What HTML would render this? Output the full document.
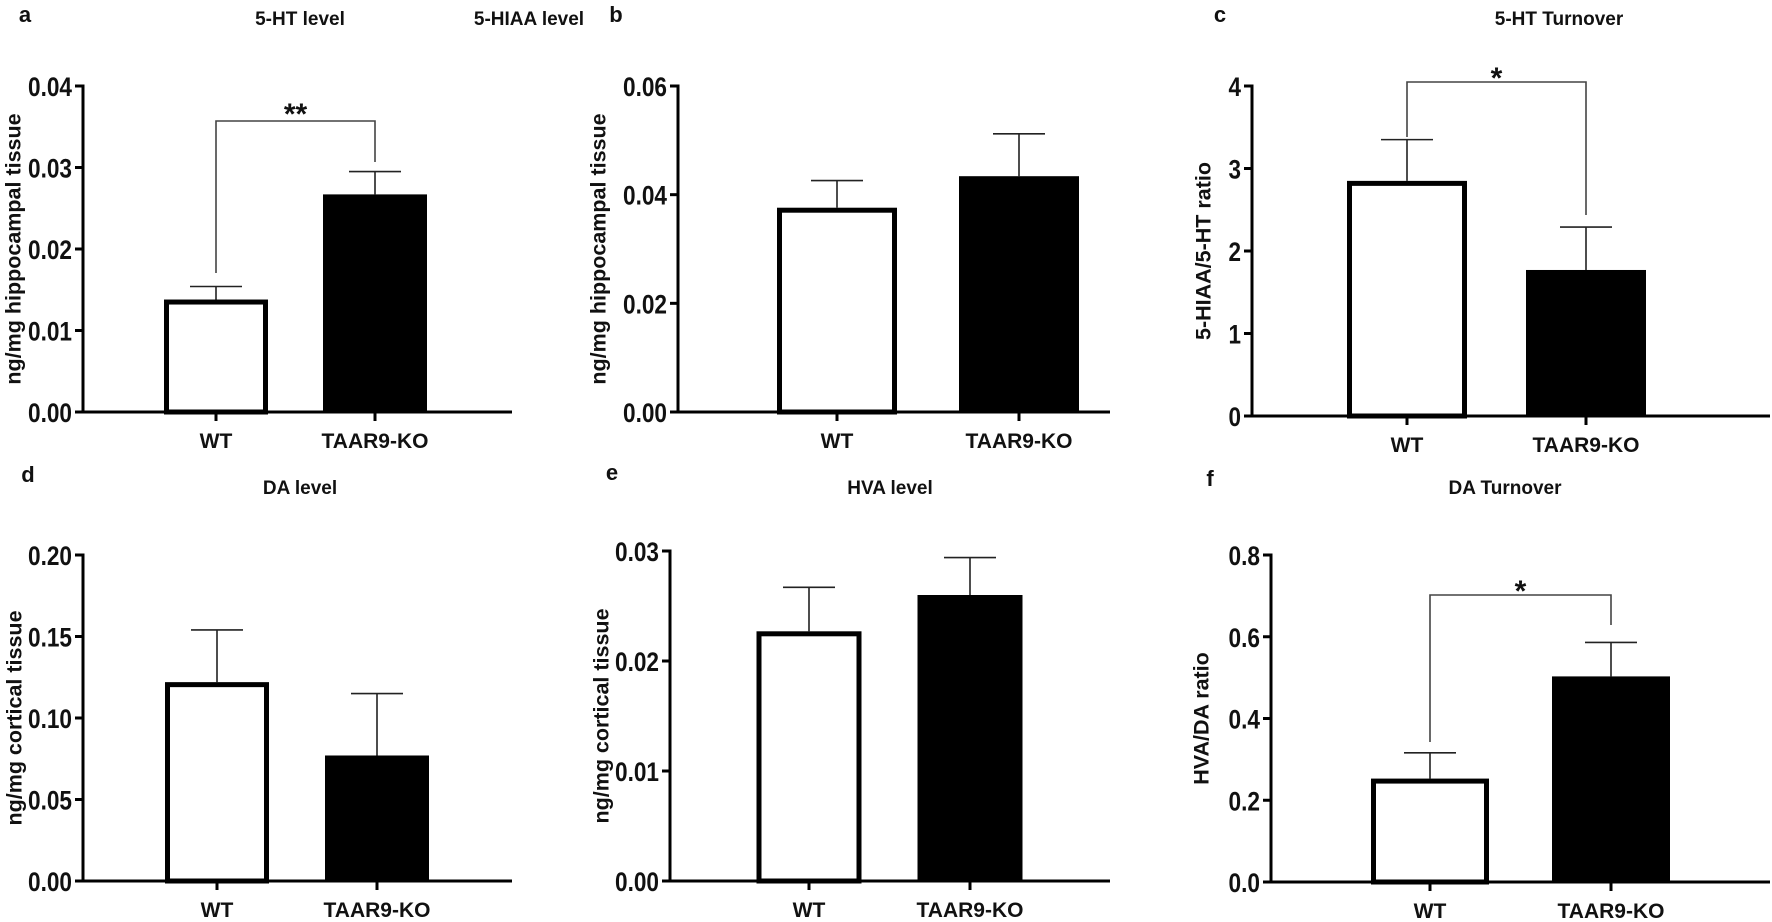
<!DOCTYPE html>
<html><head><meta charset="utf-8"><style>
html,body{margin:0;padding:0;background:#fff}
svg{display:block}
text{font-family:"Liberation Sans",Arial,sans-serif;font-weight:bold;fill:#111}
</style></head><body>
<svg id="fig" width="1772" height="922" viewBox="0 0 1772 922" xmlns="http://www.w3.org/2000/svg"></svg>
<script>
// ---- data ----
const categories = ["WT", "TAAR9-KO"];
const aValues = [0.0138, 0.0267];
const aErrors = [0.0016, 0.0028];
const aTicks = [0, 0.01, 0.02, 0.03, 0.04];
const aTickLabels = ["0.00", "0.01", "0.02", "0.03", "0.04"];
const bValues = [0.0376, 0.0434];
const bErrors = [0.0050, 0.0078];
const bTicks = [0, 0.02, 0.04, 0.06];
const bTickLabels = ["0.00", "0.02", "0.04", "0.06"];
const cValues = [2.85, 1.77];
const cErrors = [0.50, 0.52];
const cTicks = [0, 1, 2, 3, 4];
const cTickLabels = ["0", "1", "2", "3", "4"];
const dValues = [0.122, 0.077];
const dErrors = [0.032, 0.038];
const dTicks = [0, 0.05, 0.10, 0.15, 0.20];
const dTickLabels = ["0.00", "0.05", "0.10", "0.15", "0.20"];
const eValues = [0.0227, 0.0260];
const eErrors = [0.0040, 0.0034];
const eTicks = [0, 0.01, 0.02, 0.03];
const eTickLabels = ["0.00", "0.01", "0.02", "0.03"];
const fValues = [0.253, 0.503];
const fErrors = [0.063, 0.083];
const fTicks = [0, 0.2, 0.4, 0.6, 0.8];
const fTickLabels = ["0.0", "0.2", "0.4", "0.6", "0.8"];

const NS = "http://www.w3.org/2000/svg";
const svg = document.getElementById('fig');
function mk(tag, attrs, parent, txt) {
  const e = document.createElementNS(NS, tag);
  for (const k in attrs) e.setAttribute(k, attrs[k]);
  if (txt !== undefined) e.textContent = txt;
  (parent || svg).appendChild(e);
  return e;
}

const panels = [
  {id:'a', letter:[25,22], title:'5-HT level', tx:300, ty:25, ylabel:'ng/mg hippocampal  tissue', ylx:15, x0:83, yTop:86, yBot:412, xEnd:512, c0:216, gap:159, bw:104, max:0.04,
   values:aValues, errors:aErrors, ticks:aTicks, tl:aTickLabels, sig:{y:121, l:273, r:162, s:'**', sy:112}},
  {id:'b', letter:[616,22], title:'5-HIAA level', tx:529, ty:25, ylabel:'ng/mg hippocampal  tissue', ylx:600, x0:678, yTop:86, yBot:412, xEnd:1110, c0:837, gap:182, bw:120, max:0.06,
   values:bValues, errors:bErrors, ticks:bTicks, tl:bTickLabels},
  {id:'c', letter:[1220,22], title:'5-HT Turnover', tx:1559, ty:25, ylabel:'5-HIAA/5-HT ratio', ylx:1205, x0:1252, yTop:86, yBot:416, xEnd:1770, c0:1407, gap:179, bw:120, max:4,
   values:cValues, errors:cErrors, ticks:cTicks, tl:cTickLabels, sig:{y:82, l:137, r:215, s:'*', sy:76}},
  {id:'d', letter:[28,482], title:'DA level', tx:300, ty:494, ylabel:'ng/mg cortical tissue', ylx:16, x0:83, yTop:555, yBot:881, xEnd:512, c0:217, gap:160, bw:104, max:0.20,
   values:dValues, errors:dErrors, ticks:dTicks, tl:dTickLabels},
  {id:'e', letter:[612,480], title:'HVA level', tx:890, ty:494, ylabel:'ng/mg cortical tissue', ylx:603, x0:670, yTop:551, yBot:881, xEnd:1110, c0:809, gap:161, bw:105, max:0.03,
   values:eValues, errors:eErrors, ticks:eTicks, tl:eTickLabels},
  {id:'f', letter:[1210,486], title:'DA Turnover', tx:1505, ty:494, ylabel:'HVA/DA ratio', ylx:1203, x0:1271, yTop:555, yBot:882, xEnd:1770, c0:1430, gap:181, bw:118, max:0.8,
   values:fValues, errors:fErrors, ticks:fTicks, tl:fTickLabels, sig:{y:595, l:742, r:625, s:'*', sy:589}}
];

function labelWidth(s) {
  let w = 0;
  for (const ch of s) w += (ch === '.') ? 6.5 : 12.5;
  return w;
}

panels.forEach(p => {
  const g = mk('g', {});
  
  
  const y = v => p.yBot - (v / p.max) * (p.yBot - p.yTop);
  const x = i => p.c0 + i * p.gap;

  const L = mk('text', {x:p.letter[0], y:p.letter[1], 'font-size':22, 'text-anchor':'middle'}, g, p.id);
  
  
  const T = mk('text', {x:p.tx, y:p.ty, 'font-size':19, 'text-anchor':'middle'}, g, p.title);
  
  
  const cy = (p.yTop + p.yBot) / 2;
  const YL = mk('text', {x:p.ylx, y:cy, 'font-size':21.5, 'text-anchor':'middle', transform:`rotate(-90 ${p.ylx} ${cy})`, 'dominant-baseline':'middle'}, g, p.ylabel);
  
  

  p.values.forEach((v, i) => {
    const cx = x(i), top = y(v);
    const ey = y(v + p.errors[i]);
    const el = mk('line', {x1:cx, x2:cx, y1:top, y2:ey, stroke:'#222', 'stroke-width':1.6}, g);
    
    
    const cap = mk('line', {x1:cx - 26, x2:cx + 26, y1:ey, y2:ey, stroke:'#222', 'stroke-width':1.6}, g);
    
    
    let r;
    if (i === 0) {
      r = mk('rect', {x:cx - p.bw/2 + 2.5, y:top + 2.5, width:p.bw - 5, height:p.yBot - top - 2.5, fill:'#fff', stroke:'#000', 'stroke-width':5}, g);
    } else {
      r = mk('rect', {x:cx - p.bw/2, y:top, width:p.bw, height:p.yBot - top, fill:'#000'}, g);
    }
    
    
  });

  const ya = mk('line', {x1:p.x0, x2:p.x0, y1:p.yTop - 1.5, y2:p.yBot + 1.5, stroke:'#000', 'stroke-width':3}, g);
  
  
  const xa = mk('line', {x1:p.x0, x2:p.xEnd, y1:p.yBot, y2:p.yBot, stroke:'#000', 'stroke-width':3}, g);
  
  
  p.ticks.forEach((t, k) => {
    const ty = y(t);
    const tk = mk('line', {x1:p.x0 - 8, x2:p.x0, y1:ty, y2:ty, stroke:'#000', 'stroke-width':3}, g);
    
    
    const tl = mk('text', {x:p.x0 - 11, y:ty + 10, 'font-size':27, 'text-anchor':'end', textLength:labelWidth(p.tl[k]), lengthAdjust:'spacingAndGlyphs'}, g, p.tl[k]);
    
    
  });
  categories.forEach((c, i) => {
    const cx = x(i);
    const tk = mk('line', {x1:cx, x2:cx, y1:p.yBot, y2:p.yBot + 9, stroke:'#000', 'stroke-width':3}, g);
    
    
    const xl = mk('text', {x:cx, y:p.yBot + 36, 'font-size':21, 'text-anchor':'middle'}, g, c);
    
    
  });

  if (p.sig) {
    const s = p.sig;
    const br = mk('polyline', {points:`${x(0)},${s.l} ${x(0)},${s.y} ${x(1)},${s.y} ${x(1)},${s.r}`, fill:'none', stroke:'#444', 'stroke-width':1.6}, g);
    
    
    const st = mk('text', {x:(x(0) + x(1)) / 2, y:s.sy + 12, 'font-size':30, 'text-anchor':'middle'}, g, s.s);
    
    
  }
});
</script>
</body></html>
